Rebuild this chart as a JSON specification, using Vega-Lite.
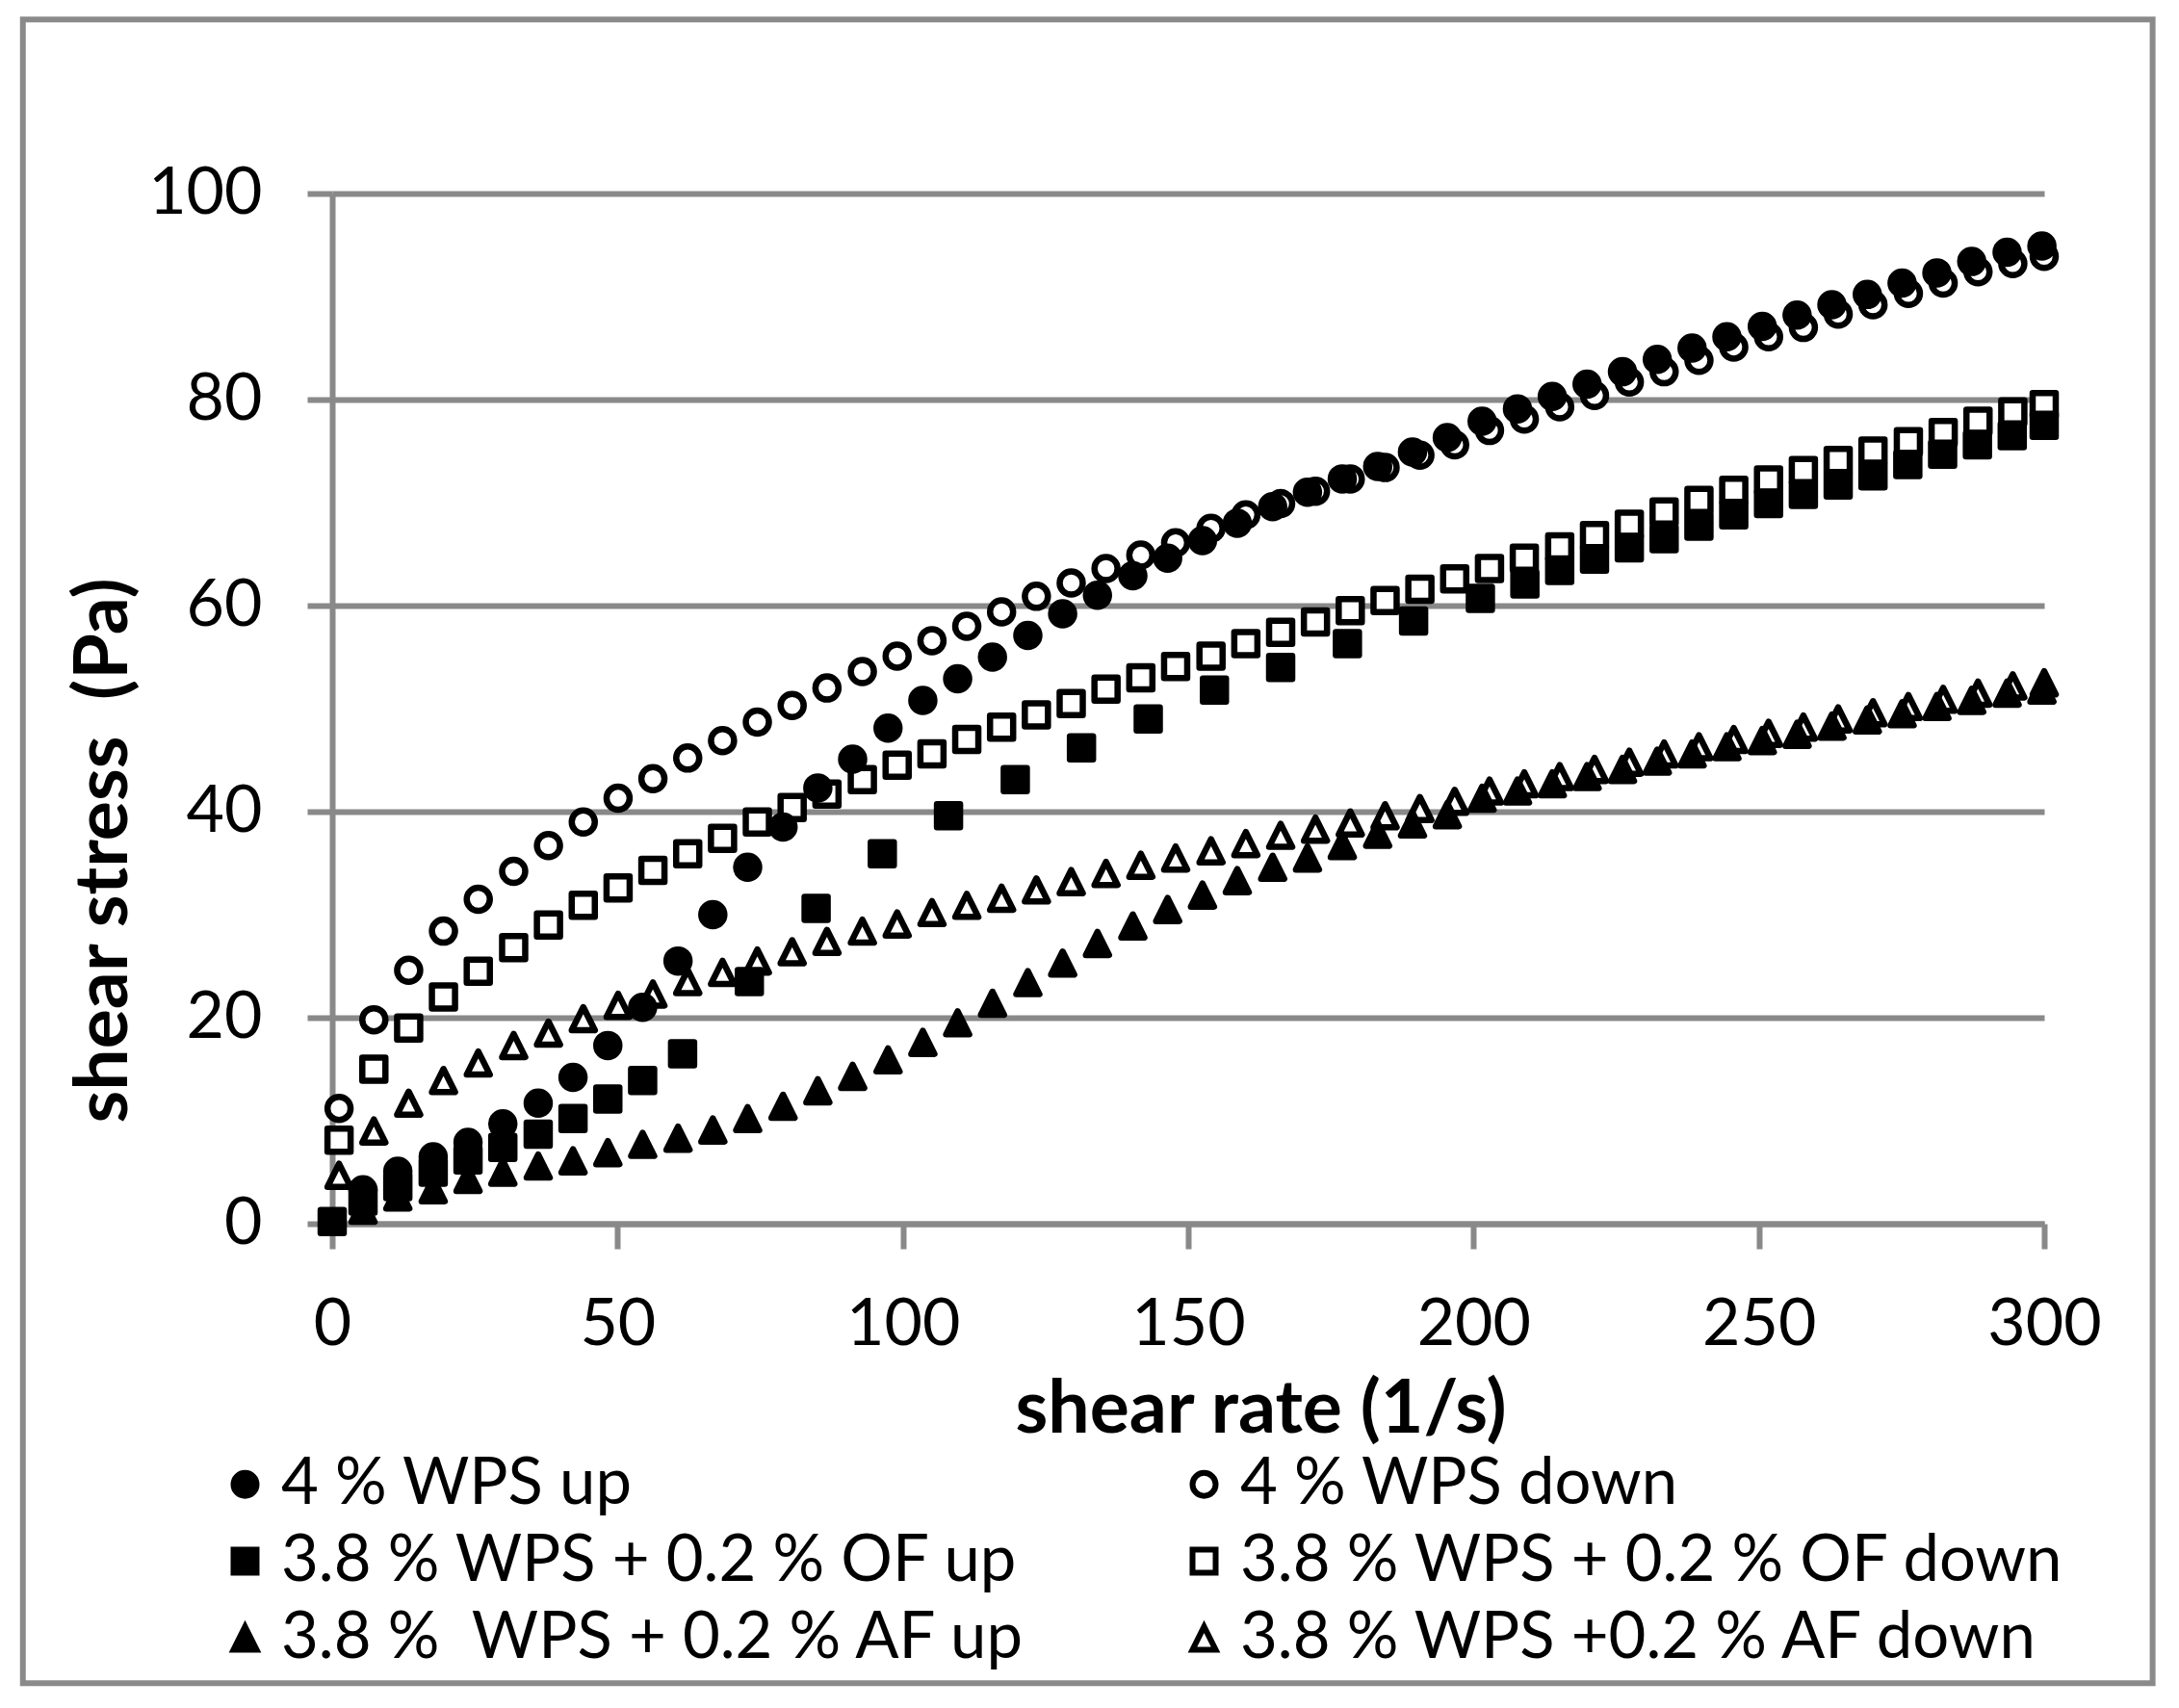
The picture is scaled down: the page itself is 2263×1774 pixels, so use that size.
{
  "$schema": "https://vega.github.io/schema/vega-lite/v6.json",
  "width": 1778,
  "height": 1070,
  "autosize": {"type": "none"},
  "padding": {"left": 345, "top": 201, "right": 140, "bottom": 503},
  "background": "white",
  "config": {
    "font": "Lato",
    "view": {"stroke": null},
    "axis": {
      "domainColor": "#898989", "domainWidth": 6, "domainCap": "butt",
      "tickColor": "#898989", "tickWidth": 6, "tickSize": 26,
      "gridColor": "#898989", "gridWidth": 6, "gridOpacity": 1,
      "labelFont": "Lato", "labelFontSize": 68, "labelColor": "#000000",
      "titleFont": "Lato", "titleFontSize": 77, "titleFontWeight": "bold", "titleColor": "#000000"
    },
    "legend": {
      "orient": "none", "legendX": -124, "legendY": 1307, "columns": 2,
      "labelFont": "Lato", "labelFontSize": 67, "labelColor": "#000000", "labelLimit": 2000,
      "symbolSize": 576, "symbolStrokeWidth": 6, "symbolStrokeColor": "#000000",
      "labelOffset": 4, "columnPadding": 150, "rowPadding": 12, "padding": 0
    }
  },
  "layer": [
    {
      "data": {"values": [{}]},
      "mark": {"type": "rect", "filled": false, "color": "#8a8a8a", "strokeWidth": 6},
      "encoding": {
        "x": {"datum": -54.2, "type": "quantitative", "scale": {"domain": [0, 300], "nice": false}},
        "x2": {"datum": 319.0},
        "y": {"datum": 116.9, "type": "quantitative", "scale": {"domain": [0, 100], "nice": false}},
        "y2": {"datum": -44.6}
      }
    },
    {
      "data": {"values": [
        {"series":"3.8 % WPS +0.2 % AF down","rate":1.2,"stress":4.7},{"series":"3.8 % WPS +0.2 % AF down","rate":7.3,"stress":9.0},{"series":"3.8 % WPS +0.2 % AF down","rate":13.4,"stress":11.7},{"series":"3.8 % WPS +0.2 % AF down","rate":19.5,"stress":13.9},{"series":"3.8 % WPS +0.2 % AF down","rate":25.6,"stress":15.6},{"series":"3.8 % WPS +0.2 % AF down","rate":31.8,"stress":17.3},{"series":"3.8 % WPS +0.2 % AF down","rate":37.9,"stress":18.5},{"series":"3.8 % WPS +0.2 % AF down","rate":44.0,"stress":19.9},{"series":"3.8 % WPS +0.2 % AF down","rate":50.1,"stress":21.2},{"series":"3.8 % WPS +0.2 % AF down","rate":56.2,"stress":22.3},
        {"series":"3.8 % WPS +0.2 % AF down","rate":62.3,"stress":23.5},{"series":"3.8 % WPS +0.2 % AF down","rate":68.4,"stress":24.4},{"series":"3.8 % WPS +0.2 % AF down","rate":74.5,"stress":25.5},{"series":"3.8 % WPS +0.2 % AF down","rate":80.6,"stress":26.4},{"series":"3.8 % WPS +0.2 % AF down","rate":86.7,"stress":27.4},{"series":"3.8 % WPS +0.2 % AF down","rate":92.9,"stress":28.4},{"series":"3.8 % WPS +0.2 % AF down","rate":99.0,"stress":29.1},{"series":"3.8 % WPS +0.2 % AF down","rate":105.1,"stress":30.2},{"series":"3.8 % WPS +0.2 % AF down","rate":111.2,"stress":30.9},{"series":"3.8 % WPS +0.2 % AF down","rate":117.3,"stress":31.6},
        {"series":"3.8 % WPS +0.2 % AF down","rate":123.4,"stress":32.4},{"series":"3.8 % WPS +0.2 % AF down","rate":129.5,"stress":33.2},{"series":"3.8 % WPS +0.2 % AF down","rate":135.6,"stress":34.0},{"series":"3.8 % WPS +0.2 % AF down","rate":141.7,"stress":34.8},{"series":"3.8 % WPS +0.2 % AF down","rate":147.8,"stress":35.5},{"series":"3.8 % WPS +0.2 % AF down","rate":154.0,"stress":36.2},{"series":"3.8 % WPS +0.2 % AF down","rate":160.1,"stress":36.9},{"series":"3.8 % WPS +0.2 % AF down","rate":166.2,"stress":37.7},{"series":"3.8 % WPS +0.2 % AF down","rate":172.3,"stress":38.3},{"series":"3.8 % WPS +0.2 % AF down","rate":178.4,"stress":38.9},
        {"series":"3.8 % WPS +0.2 % AF down","rate":184.5,"stress":39.6},{"series":"3.8 % WPS +0.2 % AF down","rate":190.6,"stress":40.3},{"series":"3.8 % WPS +0.2 % AF down","rate":196.7,"stress":41.0},{"series":"3.8 % WPS +0.2 % AF down","rate":202.8,"stress":42.0},{"series":"3.8 % WPS +0.2 % AF down","rate":208.9,"stress":42.7},{"series":"3.8 % WPS +0.2 % AF down","rate":215.1,"stress":43.4},{"series":"3.8 % WPS +0.2 % AF down","rate":221.2,"stress":44.1},{"series":"3.8 % WPS +0.2 % AF down","rate":227.3,"stress":44.8},{"series":"3.8 % WPS +0.2 % AF down","rate":233.4,"stress":45.6},{"series":"3.8 % WPS +0.2 % AF down","rate":239.5,"stress":46.3},
        {"series":"3.8 % WPS +0.2 % AF down","rate":245.6,"stress":47.0},{"series":"3.8 % WPS +0.2 % AF down","rate":251.7,"stress":47.6},{"series":"3.8 % WPS +0.2 % AF down","rate":257.8,"stress":48.2},{"series":"3.8 % WPS +0.2 % AF down","rate":263.9,"stress":49.0},{"series":"3.8 % WPS +0.2 % AF down","rate":270.0,"stress":49.6},{"series":"3.8 % WPS +0.2 % AF down","rate":276.2,"stress":50.2},{"series":"3.8 % WPS +0.2 % AF down","rate":282.3,"stress":50.9},{"series":"3.8 % WPS +0.2 % AF down","rate":288.4,"stress":51.5},{"series":"3.8 % WPS +0.2 % AF down","rate":294.5,"stress":52.2},{"series":"3.8 % WPS +0.2 % AF down","rate":300.0,"stress":52.5},

        {"series":"3.8 % WPS + 0.2 % OF down","rate":1.2,"stress":8.1},{"series":"3.8 % WPS + 0.2 % OF down","rate":7.3,"stress":15.0},{"series":"3.8 % WPS + 0.2 % OF down","rate":13.4,"stress":19.0},{"series":"3.8 % WPS + 0.2 % OF down","rate":19.5,"stress":22.0},{"series":"3.8 % WPS + 0.2 % OF down","rate":25.6,"stress":24.5},{"series":"3.8 % WPS + 0.2 % OF down","rate":31.8,"stress":26.8},{"series":"3.8 % WPS + 0.2 % OF down","rate":37.9,"stress":29.0},{"series":"3.8 % WPS + 0.2 % OF down","rate":44.0,"stress":30.9},{"series":"3.8 % WPS + 0.2 % OF down","rate":50.1,"stress":32.6},{"series":"3.8 % WPS + 0.2 % OF down","rate":56.2,"stress":34.3},
        {"series":"3.8 % WPS + 0.2 % OF down","rate":62.3,"stress":35.9},{"series":"3.8 % WPS + 0.2 % OF down","rate":68.4,"stress":37.4},{"series":"3.8 % WPS + 0.2 % OF down","rate":74.5,"stress":39.0},{"series":"3.8 % WPS + 0.2 % OF down","rate":80.6,"stress":40.4},{"series":"3.8 % WPS + 0.2 % OF down","rate":86.7,"stress":41.7},{"series":"3.8 % WPS + 0.2 % OF down","rate":92.9,"stress":43.1},{"series":"3.8 % WPS + 0.2 % OF down","rate":99.0,"stress":44.5},{"series":"3.8 % WPS + 0.2 % OF down","rate":105.1,"stress":45.6},{"series":"3.8 % WPS + 0.2 % OF down","rate":111.2,"stress":47.0},{"series":"3.8 % WPS + 0.2 % OF down","rate":117.3,"stress":48.2},
        {"series":"3.8 % WPS + 0.2 % OF down","rate":123.4,"stress":49.4},{"series":"3.8 % WPS + 0.2 % OF down","rate":129.5,"stress":50.5},{"series":"3.8 % WPS + 0.2 % OF down","rate":135.6,"stress":51.9},{"series":"3.8 % WPS + 0.2 % OF down","rate":141.7,"stress":53.0},{"series":"3.8 % WPS + 0.2 % OF down","rate":147.8,"stress":54.1},{"series":"3.8 % WPS + 0.2 % OF down","rate":154.0,"stress":55.1},{"series":"3.8 % WPS + 0.2 % OF down","rate":160.1,"stress":56.3},{"series":"3.8 % WPS + 0.2 % OF down","rate":166.2,"stress":57.4},{"series":"3.8 % WPS + 0.2 % OF down","rate":172.3,"stress":58.4},{"series":"3.8 % WPS + 0.2 % OF down","rate":178.4,"stress":59.5},
        {"series":"3.8 % WPS + 0.2 % OF down","rate":184.5,"stress":60.5},{"series":"3.8 % WPS + 0.2 % OF down","rate":190.6,"stress":61.6},{"series":"3.8 % WPS + 0.2 % OF down","rate":196.7,"stress":62.6},{"series":"3.8 % WPS + 0.2 % OF down","rate":202.8,"stress":63.6},{"series":"3.8 % WPS + 0.2 % OF down","rate":208.9,"stress":64.6},{"series":"3.8 % WPS + 0.2 % OF down","rate":215.1,"stress":65.7},{"series":"3.8 % WPS + 0.2 % OF down","rate":221.2,"stress":66.8},{"series":"3.8 % WPS + 0.2 % OF down","rate":227.3,"stress":67.9},{"series":"3.8 % WPS + 0.2 % OF down","rate":233.4,"stress":69.1},{"series":"3.8 % WPS + 0.2 % OF down","rate":239.5,"stress":70.2},
        {"series":"3.8 % WPS + 0.2 % OF down","rate":245.6,"stress":71.2},{"series":"3.8 % WPS + 0.2 % OF down","rate":251.7,"stress":72.2},{"series":"3.8 % WPS + 0.2 % OF down","rate":257.8,"stress":73.1},{"series":"3.8 % WPS + 0.2 % OF down","rate":263.9,"stress":74.1},{"series":"3.8 % WPS + 0.2 % OF down","rate":270.0,"stress":75.0},{"series":"3.8 % WPS + 0.2 % OF down","rate":276.2,"stress":75.9},{"series":"3.8 % WPS + 0.2 % OF down","rate":282.3,"stress":76.8},{"series":"3.8 % WPS + 0.2 % OF down","rate":288.4,"stress":77.9},{"series":"3.8 % WPS + 0.2 % OF down","rate":294.5,"stress":78.8},{"series":"3.8 % WPS + 0.2 % OF down","rate":300.0,"stress":79.5},

        {"series":"4 % WPS down","rate":1.2,"stress":11.2},{"series":"4 % WPS down","rate":7.3,"stress":19.8},{"series":"4 % WPS down","rate":13.4,"stress":24.6},{"series":"4 % WPS down","rate":19.5,"stress":28.4},{"series":"4 % WPS down","rate":25.6,"stress":31.5},{"series":"4 % WPS down","rate":31.8,"stress":34.2},{"series":"4 % WPS down","rate":37.9,"stress":36.7},{"series":"4 % WPS down","rate":44.0,"stress":39.0},{"series":"4 % WPS down","rate":50.1,"stress":41.3},{"series":"4 % WPS down","rate":56.2,"stress":43.2},
        {"series":"4 % WPS down","rate":62.3,"stress":45.2},{"series":"4 % WPS down","rate":68.4,"stress":46.9},{"series":"4 % WPS down","rate":74.5,"stress":48.7},{"series":"4 % WPS down","rate":80.6,"stress":50.3},{"series":"4 % WPS down","rate":86.7,"stress":52.0},{"series":"4 % WPS down","rate":92.9,"stress":53.6},{"series":"4 % WPS down","rate":99.0,"stress":55.1},{"series":"4 % WPS down","rate":105.1,"stress":56.6},{"series":"4 % WPS down","rate":111.2,"stress":58.0},{"series":"4 % WPS down","rate":117.3,"stress":59.4},
        {"series":"4 % WPS down","rate":123.4,"stress":60.9},{"series":"4 % WPS down","rate":129.5,"stress":62.2},{"series":"4 % WPS down","rate":135.6,"stress":63.6},{"series":"4 % WPS down","rate":141.7,"stress":64.9},{"series":"4 % WPS down","rate":147.8,"stress":66.1},{"series":"4 % WPS down","rate":154.0,"stress":67.5},{"series":"4 % WPS down","rate":160.1,"stress":68.8},{"series":"4 % WPS down","rate":166.2,"stress":69.9},{"series":"4 % WPS down","rate":172.3,"stress":71.1},{"series":"4 % WPS down","rate":178.4,"stress":72.3},
        {"series":"4 % WPS down","rate":184.5,"stress":73.4},{"series":"4 % WPS down","rate":190.6,"stress":74.6},{"series":"4 % WPS down","rate":196.7,"stress":75.6},{"series":"4 % WPS down","rate":202.8,"stress":77.0},{"series":"4 % WPS down","rate":208.9,"stress":78.1},{"series":"4 % WPS down","rate":215.1,"stress":79.3},{"series":"4 % WPS down","rate":221.2,"stress":80.4},{"series":"4 % WPS down","rate":227.3,"stress":81.7},{"series":"4 % WPS down","rate":233.4,"stress":82.7},{"series":"4 % WPS down","rate":239.5,"stress":83.8},
        {"series":"4 % WPS down","rate":245.6,"stress":85.1},{"series":"4 % WPS down","rate":251.7,"stress":86.1},{"series":"4 % WPS down","rate":257.8,"stress":87.0},{"series":"4 % WPS down","rate":263.9,"stress":88.3},{"series":"4 % WPS down","rate":270.0,"stress":89.2},{"series":"4 % WPS down","rate":276.2,"stress":90.3},{"series":"4 % WPS down","rate":282.3,"stress":91.3},{"series":"4 % WPS down","rate":288.4,"stress":92.4},{"series":"4 % WPS down","rate":294.5,"stress":93.2},{"series":"4 % WPS down","rate":300.0,"stress":93.9},

        {"series":"3.8 %\u00a0 WPS + 0.2 % AF up","rate":5.4,"stress":1.3},{"series":"3.8 %\u00a0 WPS + 0.2 % AF up","rate":11.5,"stress":2.6},{"series":"3.8 %\u00a0 WPS + 0.2 % AF up","rate":17.7,"stress":3.3},{"series":"3.8 %\u00a0 WPS + 0.2 % AF up","rate":23.8,"stress":4.3},{"series":"3.8 %\u00a0 WPS + 0.2 % AF up","rate":29.9,"stress":5.0},{"series":"3.8 %\u00a0 WPS + 0.2 % AF up","rate":36.1,"stress":5.6},{"series":"3.8 %\u00a0 WPS + 0.2 % AF up","rate":42.2,"stress":6.1},{"series":"3.8 %\u00a0 WPS + 0.2 % AF up","rate":48.3,"stress":6.9},{"series":"3.8 %\u00a0 WPS + 0.2 % AF up","rate":54.4,"stress":7.7},{"series":"3.8 %\u00a0 WPS + 0.2 % AF up","rate":60.6,"stress":8.3},
        {"series":"3.8 %\u00a0 WPS + 0.2 % AF up","rate":66.7,"stress":9.1},{"series":"3.8 %\u00a0 WPS + 0.2 % AF up","rate":72.8,"stress":10.2},{"series":"3.8 %\u00a0 WPS + 0.2 % AF up","rate":79.0,"stress":11.4},{"series":"3.8 %\u00a0 WPS + 0.2 % AF up","rate":85.1,"stress":12.9},{"series":"3.8 %\u00a0 WPS + 0.2 % AF up","rate":91.2,"stress":14.3},{"series":"3.8 %\u00a0 WPS + 0.2 % AF up","rate":97.4,"stress":15.9},{"series":"3.8 %\u00a0 WPS + 0.2 % AF up","rate":103.5,"stress":17.6},{"series":"3.8 %\u00a0 WPS + 0.2 % AF up","rate":109.6,"stress":19.5},{"series":"3.8 %\u00a0 WPS + 0.2 % AF up","rate":115.7,"stress":21.4},{"series":"3.8 %\u00a0 WPS + 0.2 % AF up","rate":121.9,"stress":23.4},
        {"series":"3.8 %\u00a0 WPS + 0.2 % AF up","rate":128.0,"stress":25.3},{"series":"3.8 %\u00a0 WPS + 0.2 % AF up","rate":134.1,"stress":27.2},{"series":"3.8 %\u00a0 WPS + 0.2 % AF up","rate":140.3,"stress":28.9},{"series":"3.8 %\u00a0 WPS + 0.2 % AF up","rate":146.4,"stress":30.5},{"series":"3.8 %\u00a0 WPS + 0.2 % AF up","rate":152.5,"stress":31.9},{"series":"3.8 %\u00a0 WPS + 0.2 % AF up","rate":158.6,"stress":33.3},{"series":"3.8 %\u00a0 WPS + 0.2 % AF up","rate":164.8,"stress":34.6},{"series":"3.8 %\u00a0 WPS + 0.2 % AF up","rate":170.9,"stress":35.5},{"series":"3.8 %\u00a0 WPS + 0.2 % AF up","rate":177.0,"stress":36.7},{"series":"3.8 %\u00a0 WPS + 0.2 % AF up","rate":183.2,"stress":37.8},
        {"series":"3.8 %\u00a0 WPS + 0.2 % AF up","rate":189.3,"stress":38.8},{"series":"3.8 %\u00a0 WPS + 0.2 % AF up","rate":195.4,"stress":39.7},{"series":"3.8 %\u00a0 WPS + 0.2 % AF up","rate":201.5,"stress":41.3},{"series":"3.8 %\u00a0 WPS + 0.2 % AF up","rate":207.7,"stress":42.0},{"series":"3.8 %\u00a0 WPS + 0.2 % AF up","rate":213.8,"stress":42.7},{"series":"3.8 %\u00a0 WPS + 0.2 % AF up","rate":219.9,"stress":43.4},{"series":"3.8 %\u00a0 WPS + 0.2 % AF up","rate":226.1,"stress":44.1},{"series":"3.8 %\u00a0 WPS + 0.2 % AF up","rate":232.2,"stress":44.9},{"series":"3.8 %\u00a0 WPS + 0.2 % AF up","rate":238.3,"stress":45.6},{"series":"3.8 %\u00a0 WPS + 0.2 % AF up","rate":244.4,"stress":46.3},
        {"series":"3.8 %\u00a0 WPS + 0.2 % AF up","rate":250.6,"stress":46.9},{"series":"3.8 %\u00a0 WPS + 0.2 % AF up","rate":256.7,"stress":47.5},{"series":"3.8 %\u00a0 WPS + 0.2 % AF up","rate":262.8,"stress":48.3},{"series":"3.8 %\u00a0 WPS + 0.2 % AF up","rate":269.0,"stress":48.9},{"series":"3.8 %\u00a0 WPS + 0.2 % AF up","rate":275.1,"stress":49.5},{"series":"3.8 %\u00a0 WPS + 0.2 % AF up","rate":281.2,"stress":50.2},{"series":"3.8 %\u00a0 WPS + 0.2 % AF up","rate":287.3,"stress":50.8},{"series":"3.8 %\u00a0 WPS + 0.2 % AF up","rate":293.5,"stress":51.5},{"series":"3.8 %\u00a0 WPS + 0.2 % AF up","rate":299.6,"stress":51.8},

        {"series":"3.8 % WPS + 0.2 % OF up","rate":0,"stress":0.2},{"series":"3.8 % WPS + 0.2 % OF up","rate":5.4,"stress":2.2},{"series":"3.8 % WPS + 0.2 % OF up","rate":11.5,"stress":3.6},{"series":"3.8 % WPS + 0.2 % OF up","rate":17.7,"stress":5.0},{"series":"3.8 % WPS + 0.2 % OF up","rate":23.8,"stress":6.2},{"series":"3.8 % WPS + 0.2 % OF up","rate":29.9,"stress":7.4},{"series":"3.8 % WPS + 0.2 % OF up","rate":36.1,"stress":8.7},{"series":"3.8 % WPS + 0.2 % OF up","rate":42.2,"stress":10.2},{"series":"3.8 % WPS + 0.2 % OF up","rate":48.3,"stress":12.1},{"series":"3.8 % WPS + 0.2 % OF up","rate":54.4,"stress":13.9},
        {"series":"3.8 % WPS + 0.2 % OF up","rate":61.4,"stress":16.5},{"series":"3.8 % WPS + 0.2 % OF up","rate":73.1,"stress":23.5},{"series":"3.8 % WPS + 0.2 % OF up","rate":84.8,"stress":30.6},{"series":"3.8 % WPS + 0.2 % OF up","rate":96.4,"stress":35.9},{"series":"3.8 % WPS + 0.2 % OF up","rate":108.0,"stress":39.6},{"series":"3.8 % WPS + 0.2 % OF up","rate":119.7,"stress":43.1},{"series":"3.8 % WPS + 0.2 % OF up","rate":131.3,"stress":46.2},{"series":"3.8 % WPS + 0.2 % OF up","rate":143.0,"stress":49.0},{"series":"3.8 % WPS + 0.2 % OF up","rate":154.6,"stress":51.8},{"series":"3.8 % WPS + 0.2 % OF up","rate":166.2,"stress":54.0},
        {"series":"3.8 % WPS + 0.2 % OF up","rate":177.9,"stress":56.3},{"series":"3.8 % WPS + 0.2 % OF up","rate":189.5,"stress":58.5},{"series":"3.8 % WPS + 0.2 % OF up","rate":201.2,"stress":60.7},{"series":"3.8 % WPS + 0.2 % OF up","rate":209.0,"stress":62.1},{"series":"3.8 % WPS + 0.2 % OF up","rate":215.1,"stress":63.4},{"series":"3.8 % WPS + 0.2 % OF up","rate":221.2,"stress":64.5},{"series":"3.8 % WPS + 0.2 % OF up","rate":227.3,"stress":65.6},{"series":"3.8 % WPS + 0.2 % OF up","rate":233.4,"stress":66.5},{"series":"3.8 % WPS + 0.2 % OF up","rate":239.5,"stress":67.7},{"series":"3.8 % WPS + 0.2 % OF up","rate":245.6,"stress":68.8},
        {"series":"3.8 % WPS + 0.2 % OF up","rate":251.7,"stress":69.9},{"series":"3.8 % WPS + 0.2 % OF up","rate":257.8,"stress":70.8},{"series":"3.8 % WPS + 0.2 % OF up","rate":263.9,"stress":71.7},{"series":"3.8 % WPS + 0.2 % OF up","rate":270.0,"stress":72.6},{"series":"3.8 % WPS + 0.2 % OF up","rate":276.1,"stress":73.7},{"series":"3.8 % WPS + 0.2 % OF up","rate":282.2,"stress":74.7},{"series":"3.8 % WPS + 0.2 % OF up","rate":288.3,"stress":75.6},{"series":"3.8 % WPS + 0.2 % OF up","rate":294.4,"stress":76.5},{"series":"3.8 % WPS + 0.2 % OF up","rate":300.0,"stress":77.5},

        {"series":"4 % WPS up","rate":5.4,"stress":3.3},{"series":"4 % WPS up","rate":11.5,"stress":5.1},{"series":"4 % WPS up","rate":17.7,"stress":6.5},{"series":"4 % WPS up","rate":23.8,"stress":7.9},{"series":"4 % WPS up","rate":29.9,"stress":9.7},{"series":"4 % WPS up","rate":36.1,"stress":11.7},{"series":"4 % WPS up","rate":42.2,"stress":14.2},{"series":"4 % WPS up","rate":48.3,"stress":17.3},{"series":"4 % WPS up","rate":54.4,"stress":21.0},{"series":"4 % WPS up","rate":60.6,"stress":25.5},
        {"series":"4 % WPS up","rate":66.7,"stress":30.0},{"series":"4 % WPS up","rate":72.8,"stress":34.6},{"series":"4 % WPS up","rate":79.0,"stress":38.5},{"series":"4 % WPS up","rate":85.1,"stress":42.3},{"series":"4 % WPS up","rate":91.2,"stress":45.1},{"series":"4 % WPS up","rate":97.4,"stress":48.1},{"series":"4 % WPS up","rate":103.5,"stress":50.8},{"series":"4 % WPS up","rate":109.6,"stress":52.9},{"series":"4 % WPS up","rate":115.7,"stress":55.0},{"series":"4 % WPS up","rate":121.9,"stress":57.1},
        {"series":"4 % WPS up","rate":128.0,"stress":59.2},{"series":"4 % WPS up","rate":134.1,"stress":61.0},{"series":"4 % WPS up","rate":140.3,"stress":62.9},{"series":"4 % WPS up","rate":146.4,"stress":64.6},{"series":"4 % WPS up","rate":152.5,"stress":66.3},{"series":"4 % WPS up","rate":158.6,"stress":68.0},{"series":"4 % WPS up","rate":164.8,"stress":69.6},{"series":"4 % WPS up","rate":170.9,"stress":71.0},{"series":"4 % WPS up","rate":177.0,"stress":72.3},{"series":"4 % WPS up","rate":183.2,"stress":73.5},
        {"series":"4 % WPS up","rate":189.3,"stress":74.9},{"series":"4 % WPS up","rate":195.4,"stress":76.3},{"series":"4 % WPS up","rate":201.5,"stress":77.9},{"series":"4 % WPS up","rate":207.7,"stress":79.1},{"series":"4 % WPS up","rate":213.8,"stress":80.3},{"series":"4 % WPS up","rate":219.9,"stress":81.5},{"series":"4 % WPS up","rate":226.1,"stress":82.7},{"series":"4 % WPS up","rate":232.2,"stress":83.9},{"series":"4 % WPS up","rate":238.3,"stress":85.0},{"series":"4 % WPS up","rate":244.4,"stress":86.1},
        {"series":"4 % WPS up","rate":250.6,"stress":87.1},{"series":"4 % WPS up","rate":256.7,"stress":88.2},{"series":"4 % WPS up","rate":262.8,"stress":89.2},{"series":"4 % WPS up","rate":269.0,"stress":90.2},{"series":"4 % WPS up","rate":275.1,"stress":91.3},{"series":"4 % WPS up","rate":281.2,"stress":92.3},{"series":"4 % WPS up","rate":287.3,"stress":93.4},{"series":"4 % WPS up","rate":293.5,"stress":94.3},{"series":"4 % WPS up","rate":299.6,"stress":94.9}
      ]},
      "mark": {"type": "point", "filled": true, "opacity": 1, "size": 576, "stroke": "#000000", "strokeWidth": 6.5, "strokeJoin": "round"},
      "encoding": {
        "x": {
          "field": "rate", "type": "quantitative",
          "scale": {"domain": [0, 300], "nice": false},
          "axis": {
            "values": [0, 50, 100, 150, 200, 250, 300], "title": "shear rate (1/s)", "grid": false,
            "labelFlush": false, "labelPadding": 45,
            "titleX": 964, "titleY": 193, "titleAlign": "center", "titleBaseline": "middle"
          }
        },
        "y": {
          "field": "stress", "type": "quantitative",
          "scale": {"domain": [0, 100], "nice": false},
          "axis": {
            "values": [0, 20, 40, 60, 80, 100], "title": "shear stress\u00a0 (Pa)", "grid": true,
            "labelPadding": 47, "titleAngle": 270,
            "titleX": -237, "titleY": 682, "titleAlign": "center", "titleBaseline": "middle"
          }
        },
        "shape": {
          "field": "series", "type": "nominal",
          "scale": {
            "domain": ["4 % WPS up", "3.8 % WPS + 0.2 % OF up", "3.8 %\u00a0 WPS + 0.2 % AF up", "4 % WPS down", "3.8 % WPS + 0.2 % OF down", "3.8 % WPS +0.2 % AF down"],
            "range": ["circle", "square", "M0,-1L1,1L-1,1Z", "circle", "square", "M0,-1L1,1L-1,1Z"]
          },
          "legend": {"title": null}
        },
        "fill": {
          "field": "series", "type": "nominal",
          "scale": {
            "domain": ["4 % WPS up", "3.8 % WPS + 0.2 % OF up", "3.8 %\u00a0 WPS + 0.2 % AF up", "4 % WPS down", "3.8 % WPS + 0.2 % OF down", "3.8 % WPS +0.2 % AF down"],
            "range": ["#000000", "#000000", "#000000", "#ffffff", "#ffffff", "#ffffff"]
          },
          "legend": {"title": null}
        },
        "stroke": {
          "field": "series", "type": "nominal",
          "scale": {
            "domain": ["4 % WPS up", "3.8 % WPS + 0.2 % OF up", "3.8 %\u00a0 WPS + 0.2 % AF up", "4 % WPS down", "3.8 % WPS + 0.2 % OF down", "3.8 % WPS +0.2 % AF down"],
            "range": ["#000000", "#000000", "#000000", "#000000", "#000000", "#000000"]
          },
          "legend": {"title": null}
        }
      }
    }
  ]
}
